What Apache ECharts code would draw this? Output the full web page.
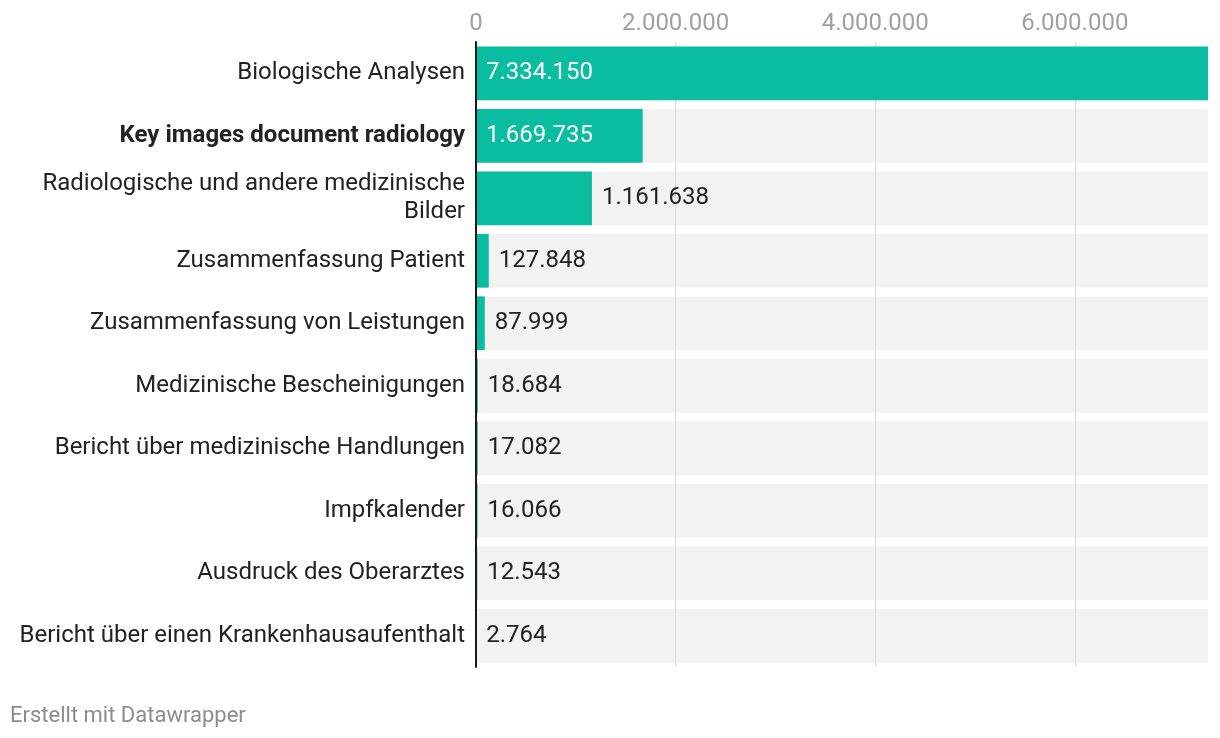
<!DOCTYPE html>
<html><head><meta charset="utf-8">
<script src="https://cdn.jsdelivr.net/npm/echarts@6/dist/echarts.min.js"></script>
<style>html,body{margin:0;padding:0;background:#fff}#c{width:1220px;height:738px}</style>
</head><body><div id="c"></div>
<script>
const categories = [
  "Biologische Analysen",
  "Key images document radiology",
  "Radiologische und andere medizinische Bilder",
  "Zusammenfassung Patient",
  "Zusammenfassung von Leistungen",
  "Medizinische Bescheinigungen",
  "Bericht über medizinische Handlungen",
  "Impfkalender",
  "Ausdruck des Oberarztes",
  "Bericht über einen Krankenhausaufenthalt"
];
const values = [7334150, 1669735, 1161638, 127848, 87999, 18684, 17082, 16066, 12543, 2764];
const insideLabel = [true, true, false, false, false, false, false, false, false, false];
const boldCategory = "Key images document radiology";
const axisMax = 7334150;
const tickInterval = 2000000;

const fmt = v => String(Math.round(v)).replace(/\B(?=(\d{3})+(?!\d))/g, ".");
const FONT = "Roboto";
const FS = 24;
const GRID = '#d9d9d9';
const LABEL_W = 455;

// greedy word wrap without trailing spaces
const ctx = document.createElement('canvas').getContext('2d');
function wrap(text, bold) {
  ctx.font = (bold ? 'bold ' : '') + FS + 'px ' + FONT;
  const words = text.split(' ');
  const lines = [];
  let cur = '';
  for (const w of words) {
    const t = cur ? cur + ' ' + w : w;
    if (cur && ctx.measureText(t).width > LABEL_W) { lines.push(cur); cur = w; }
    else cur = t;
  }
  if (cur) lines.push(cur);
  return lines.join('\n');
}

const chart = echarts.init(document.getElementById('c'), null, {renderer: 'canvas'});
chart.setOption({
  animation: false,
  backgroundColor: '#fff',
  textStyle: {fontFamily: FONT},
  title: {
    text: 'Erstellt mit Datawrapper', left: 5, top: 700,
    textStyle: {fontFamily: FONT, fontSize: 22, fontWeight: 'normal', color: '#8c8c8c'}
  },
  grid: {left: 476, right: 12, top: 42, bottom: 71, containLabel: false, outerBoundsMode: 'none'},
  xAxis: {
    type: 'value', position: 'top', min: 0, max: axisMax, interval: tickInterval, z: 1,
    axisLine: {show: false}, axisTick: {show: false},
    axisLabel: {fontFamily: FONT, fontSize: FS, color: '#a0a0a0', margin: 6, showMaxLabel: false,
      formatter: v => fmt(v)},
    splitLine: {show: true, lineStyle: {width: 1, color: [GRID, GRID, GRID, GRID, 'rgba(0,0,0,0)']}}
  },
  yAxis: {
    type: 'category', data: categories, inverse: true, z: 3,
    axisLine: {show: true, lineStyle: {color: '#1a1a1a', width: 2}},
    axisTick: {show: false},
    axisLabel: {
      fontFamily: FONT, fontSize: FS, color: '#222', margin: 11, align: 'right', lineHeight: 28,
      formatter: v => v === boldCategory ? '{b|' + wrap(v, true) + '}' : wrap(v, false),
      rich: {b: {fontFamily: FONT, fontSize: FS, fontWeight: 'bold', color: '#222', lineHeight: 28}}
    }
  },
  series: [
    {
      type: 'bar', z: 0, silent: true, barCategoryGap: '14%', barGap: '-100%',
      data: categories.map(() => axisMax),
      itemStyle: {color: '#f2f2f2'}
    },
    {
      type: 'bar', z: 2, barCategoryGap: '14%', barGap: '-100%',
      data: values.map((v, i) => ({
        value: v,
        label: insideLabel[i]
          ? {show: true, position: 'insideLeft', distance: 10, color: '#fff', fontSize: FS, fontFamily: FONT, formatter: p => fmt(p.value)}
          : {show: true, position: 'right', distance: 10, color: '#222', fontSize: FS, fontFamily: FONT, formatter: p => fmt(p.value)}
      })),
      itemStyle: {color: '#0abda0'}
    }
  ]
});
</script></body></html>
